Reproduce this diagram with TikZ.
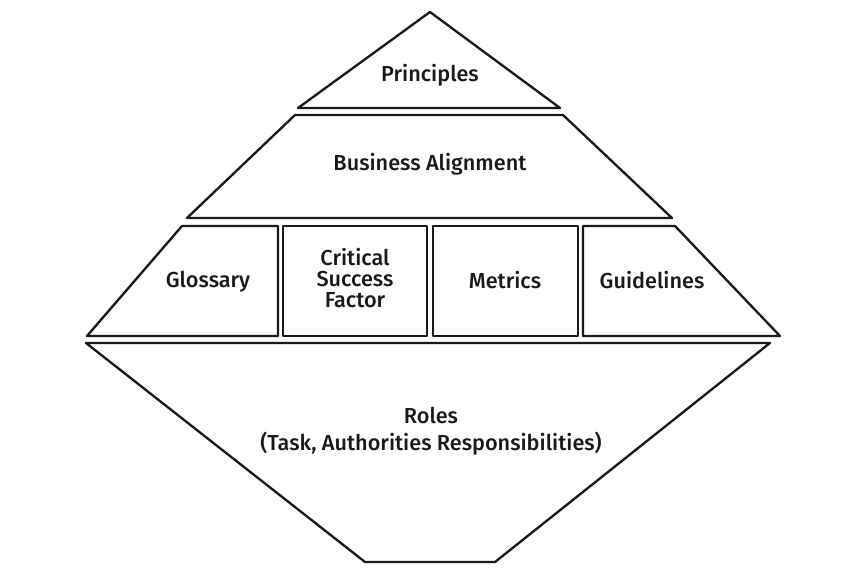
\documentclass[tikz,border=0pt]{standalone}
\usepackage{fontspec}
\setmainfont{Fira Sans Medium}
\usepackage{tikz}

\begin{document}
\begin{tikzpicture}[x=0.03cm, y=-0.03cm,
    part/.style={line width=2pt, line join=round, draw=black!90},
    label/.style={font=\fontsize{18.5}{18}\selectfont, align=center, text=black!90, inner sep=0pt}]
      \useasboundingbox (0,0) rectangle (856,571);
      \draw[part] (430,12) -- (560,108) -- (298,108) -- cycle;
      \draw[part] (295,115) -- (563,115) -- (672,218) -- (187,218) -- cycle;
      \draw[part] (182,226) -- (278,226) -- (278,336) -- (87,336) -- cycle;
      \draw[part] (283,226) rectangle (427,336);
      \draw[part] (433,226) rectangle (578,336);
      \draw[part] (583,226) -- (675,226) -- (780,336) -- (583,336) -- cycle;
      \draw[part] (86,343) -- (770,343) -- (495,562) -- (365,562) -- cycle;
      \node[label] (principles) at (430,75)  {Principles};
      \node[label] (business)   at (430,164) {Business Alignment};
      \node[label] (glossary)   at (208,282) {Glossary};
      \node[label] (csf)        at (355,278) {Critical\\Success\\Factor};
      \node[label] (metrics)    at (505,280) {Metrics};
      \node[label] (guidelines) at (652,280) {Guidelines};
      \node[label] (roles)      at (431,431) {Roles\\[5pt](Task, Authorities Responsibilities)};
    \end{tikzpicture}
\end{document}
